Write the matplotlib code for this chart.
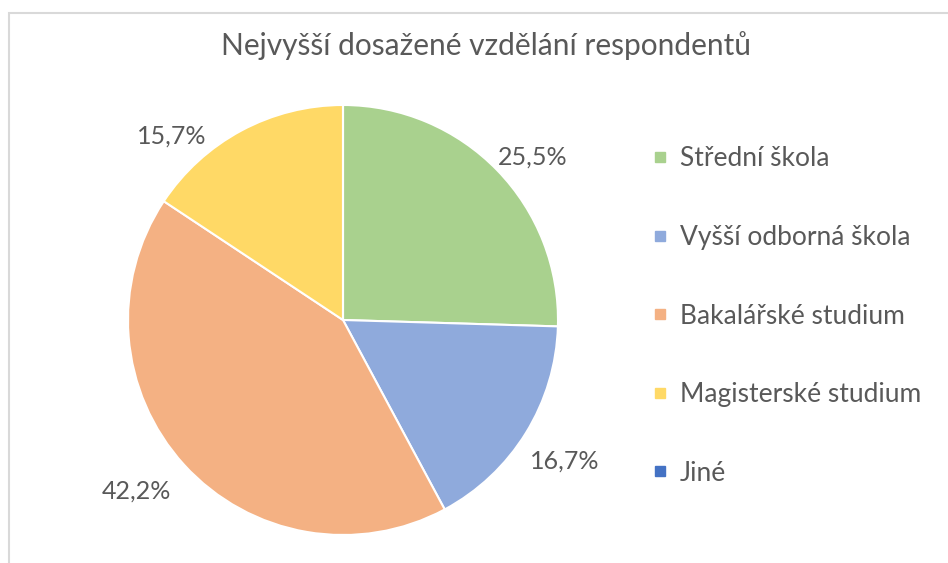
import numpy as np
import matplotlib.pyplot as plt
from matplotlib.lines import Line2D
from matplotlib.patches import Rectangle

plt.rcParams['font.family'] = ['Lato', 'DejaVu Sans']

categories = ['Střední škola', 'Vyšší odborná škola', 'Bakalářské studium',
              'Magisterské studium', 'Jiné']
values = [25.5, 16.7, 42.2, 15.7, 0.0]
colors = ['#A9D18E', '#8FAADC', '#F4B183', '#FFD966', '#4472C4']
title = 'Nejvyšší dosažené vzdělání respondentů'

text_color = '#595959'

fig = plt.figure(figsize=(9.48, 5.63), dpi=100)
# light frame like the Excel chart area
fig.patches.append(Rectangle((9 / 948, -0.1), 1.2, (563 - 13) / 563 + 0.1,
                             transform=fig.transFigure, fill=False,
                             edgecolor='#D9D9D9', linewidth=1.5))

# pie centre at (343, 320) px, radius 215 px
lim = 1.3
w = 2 * lim * 215 / 948
h = 2 * lim * 215 / 563
ax = fig.add_axes([343 / 948 - w / 2, (563 - 320) / 563 - h / 2, w, h])

wedges, _ = ax.pie(values, colors=colors, startangle=90, counterclock=False,
                   radius=1.0, wedgeprops=dict(edgecolor='white', linewidth=1.5))
ax.set_xlim(-lim, lim)
ax.set_ylim(-lim, lim)
ax.set_aspect('equal')
ax.axis('off')

# data labels outside the wedges (radius and angle nudges imitate Excel's best fit)
nudge_r = [1.16, 1.22, 1.25, 1.17]
nudge_a = [-3.5, -0.7, -2.7, 14.8]
for i, wdg in enumerate(wedges):
    if values[i] <= 0:
        continue
    a = np.deg2rad((wdg.theta1 + wdg.theta2) / 2 + nudge_a[i])
    r = nudge_r[i]
    ax.text(r * np.cos(a), r * np.sin(a), f'{values[i]:.1f}%'.replace('.', ','),
            ha='center', va='center', fontsize=18, color=text_color)

fig.text(486 / 948, 1 - 46 / 563, title, ha='center', va='center',
         fontsize=21.5, color=text_color)

handles = [Line2D([], [], linestyle='none', marker='s', markersize=7.5,
                  markerfacecolor=c, markeredgecolor=c) for c in colors]
fig.legend(handles, categories, loc='center left',
           bbox_to_anchor=(652 / 948, 1 - 316 / 563), frameon=False,
           fontsize=19, labelcolor=text_color, labelspacing=2.03,
           handlelength=0.6, handletextpad=0.45, borderpad=0, borderaxespad=0)

fig.savefig('out.png', dpi=100)
